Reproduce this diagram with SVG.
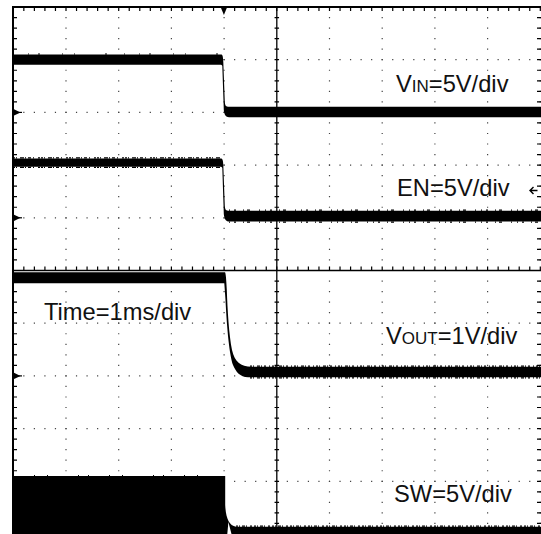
<svg xmlns="http://www.w3.org/2000/svg" width="541" height="534" viewBox="0 0 541 534">
<style>
.dot{stroke:#444;stroke-width:1.2;stroke-dasharray:1.2 9.34;fill:none}
.tick{stroke:#000;stroke-width:4;stroke-dasharray:1.2 9.34;fill:none}
.tr{fill:#000;stroke:none}
.nz{stroke:#000;stroke-width:1.2;fill:none}
.lbl{font-family:"Liberation Sans",Arial,sans-serif;font-size:23.7px;fill:#111}
.sc{font-size:17px}
</style>
<rect width="541" height="534" fill="#fff"/>
<g id="grid">
  <path class="dot" d="M66,6.4V534M118.7,6.4V534M171.4,6.4V534M224.1,6.4V534M329.5,6.4V534M382.2,6.4V534M434.9,6.4V534M487.6,6.4V534M540.2,6.4V534"/>
  <path class="dot" d="M12.7,59.7H541M12.7,112.4H541M12.7,165.1H541M12.7,217.8H541M12.7,323.2H541M12.7,375.9H541M12.7,428.6H541M12.7,481.3H541"/>
  <line x1="276.8" y1="7" x2="276.8" y2="534" stroke="#000" stroke-width="1.3"/>
  <line x1="13" y1="270.5" x2="541" y2="270.5" stroke="#000" stroke-width="1.5"/>
  <path class="tick" d="M276.8,6.4V534" style="stroke-width:4.5"/>
  <path class="tick" d="M12.7,268.5H541"/>
  <path class="tick" d="M15,6.4V534"/>
  <path class="tick" d="M12.7,9H541"/>
  <path class="tick" d="M539,6.4V534"/>
  <line x1="13" y1="6" x2="13" y2="534" stroke="#000" stroke-width="2"/>
  <line x1="12" y1="7" x2="541" y2="7" stroke="#000" stroke-width="2"/>
</g>
<g id="markers">
  <path id="trigger" d="M220.6,7 L227.2,7 L223.9,15 Z" fill="#000"/>
  <g id="gnd1"><path d="M13,108.8 L20.5,112.4 L13,116 Z" fill="#000"/><line x1="13" y1="112.4" x2="22" y2="112.4" stroke="#000" stroke-width="1.2"/></g>
  <g id="gnd2"><path d="M13,214.2 L20.5,217.8 L13,221.4 Z" fill="#000"/><line x1="13" y1="217.8" x2="22" y2="217.8" stroke="#000" stroke-width="1.2"/></g>
  <g id="gnd3"><path d="M13,372.3 L20.5,375.9 L13,379.5 Z" fill="#000"/><line x1="13" y1="375.9" x2="22" y2="375.9" stroke="#000" stroke-width="1.2"/></g>
  <g id="trigLevel" stroke="#000" stroke-width="1.4" fill="none"><path d="M530,190.5H537.5M533.5,187L530,190.5L533.5,194"/></g>
</g>
<g id="traces">
  <path id="vin" class="tr" d="M13,54.5 H221.5 C222.8,55 223,57 223.3,62 L224.8,102 C225.2,106 226,106.8 229,106.8 H541 V117.2 H229 C226,117.2 224.3,115 223.8,110 L222.3,66 C222,65 221.5,64.7 220,64.7 H13 Z"/>
  <path class="nz" d="M13,54H221" stroke-dasharray="1 14 1 9 2 22 1 11 1 30 2 17"/>
  <path id="en" class="tr" d="M13,158.5 H221.5 C222.8,159 223,161 223.3,165 L224.8,206 C225.2,210 226,210.8 229,210.8 H541 V221.5 H229 C226,221.5 224.3,219 223.8,214 L222.3,168 C222,167 221.5,166.7 220,166.7 H13 Z"/>
  <path class="nz" d="M13,157.8H221M13,167.3H221" stroke-dasharray="2 1 1 3 4 1 1 2 3 2 1 4 2 1"/>
  <path class="nz" d="M229,210.2H541M229,222.1H541" stroke-dasharray="1 4 2 7 1 3 3 9 1 5"/>
  <path id="vout" class="tr" d="M13,272.3 H225 C225.8,273 226.3,280 226.8,290 C227.5,310 229,335 232,350 C235,362 240,366.5 252,366.8 H541 V377.3 H248 C240,377 236,372 233,365 C229.5,355 227,330 225.5,300 L224.3,283.3 H13 Z"/>
  <path class="nz" d="M250,366.2H541M250,377.9H541" stroke-dasharray="2 1 1 3 3 1 1 2 2 3 1 2"/>
  <path id="sw" class="tr" d="M13,476 H225.2 V505 C225.8,518 229,525.5 236,526.8 H541 V534 H231.5 L228.4,522 L227.3,534 H13 Z"/>
  <path class="nz" d="M236,526.2H541" stroke-dasharray="2 1 1 2 3 1 1 3 2 2"/>
  <path class="nz" d="M13,475.5H225" stroke-dasharray="1 20 1 12 1 30 1 9"/>
</g>
<g id="labels">
  <text class="lbl" x="396" y="92">V<tspan class="sc">IN</tspan>=5V/div</text>
  <text class="lbl" x="397" y="195.5">EN=5V/div</text>
  <text class="lbl" x="44" y="319.5">Time=1ms/div</text>
  <text class="lbl" x="386" y="344">V<tspan class="sc">OUT</tspan>=1V/div</text>
  <text class="lbl" x="394" y="502">SW=5V/div</text>
</g>
</svg>
